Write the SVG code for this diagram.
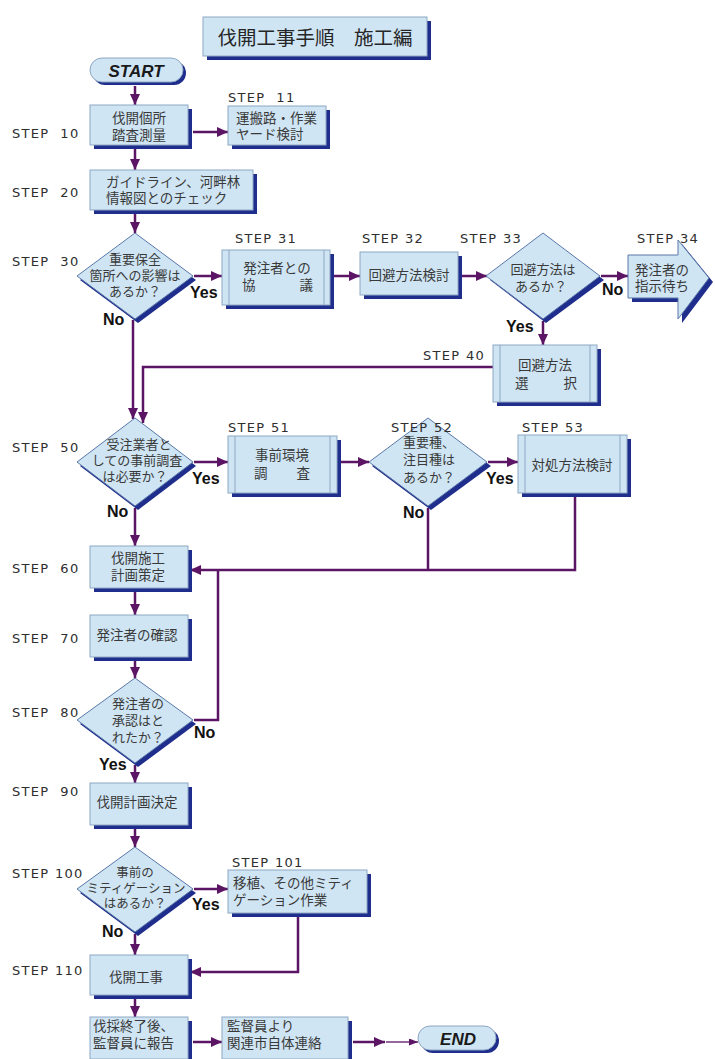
<svg xmlns="http://www.w3.org/2000/svg" width="715" height="1059" viewBox="0 0 715 1059">
<style>
.bg{fill:#ffffff}
.box{fill:#cfe5f4;stroke:#8ea7c3;stroke-width:1}
.sh{fill:#1f2e8c}
.inner{stroke:#8ea7c3;stroke-width:1;fill:none}
.dia{fill:#cfe5f4;stroke:#5a78a8;stroke-width:1}
.jp{font-family:"Noto Sans CJK JP","Noto Sans CJK SC",sans-serif;font-size:13.5px;fill:#3a3a3a}
.jpc{font-family:"Noto Sans CJK JP","Noto Sans CJK SC",sans-serif;font-size:13.5px;fill:#3a3a3a;text-anchor:middle}
.dt{font-family:"Noto Sans CJK JP","Noto Sans CJK SC",sans-serif;font-size:13px;fill:#3a3a3a;text-anchor:middle}
.dl{font-family:"Noto Sans CJK JP","Noto Sans CJK SC",sans-serif;font-size:13px;fill:#3a3a3a}
.title{font-family:"Noto Sans CJK JP","Noto Sans CJK SC",sans-serif;font-size:19.5px;fill:#262626;text-anchor:middle}
.step{font-family:"DejaVu Sans",sans-serif;font-size:13px;letter-spacing:1.3px;fill:#2e2e2e;white-space:pre}
.yn{font-family:"Liberation Sans",Arial,sans-serif;font-weight:bold;font-size:16px;fill:#111111}
.term{font-family:"Liberation Sans",Arial,sans-serif;font-weight:bold;font-style:italic;font-size:17px;fill:#1a1a1a;text-anchor:middle}
.con{fill:none;stroke:#5c1464;stroke-width:2.5}
.thin{fill:none;stroke:#5c1464;stroke-width:1.3}
</style>
<defs>
<marker id="ah" markerUnits="userSpaceOnUse" markerWidth="11" markerHeight="10" refX="11" refY="5" orient="auto">
<path d="M0,0 L11,5 L0,10 z" fill="#5c1464"/>
</marker>
<marker id="ahs" markerUnits="userSpaceOnUse" markerWidth="9" markerHeight="7" refX="9" refY="3.5" orient="auto">
<path d="M0,0 L9,3.5 L0,7 z" fill="#5c1464"/>
</marker>
</defs>
<rect class="bg" x="0" y="0" width="715" height="1059"/>

<g id="connectors">
<path class="con" d="M135,86 V105" marker-end="url(#ah)"/>
<path class="con" d="M135,149 V170" marker-end="url(#ah)"/>
<path class="con" d="M193,132 H228" marker-end="url(#ah)"/>
<path class="con" d="M135,214 V233" marker-end="url(#ah)"/>
<path class="con" d="M194,276 H222" marker-end="url(#ah)"/>
<path class="con" d="M334,276 H360" marker-end="url(#ah)"/>
<path class="con" d="M462,276 H487" marker-end="url(#ah)"/>
<path class="con" d="M601,276 H628" marker-end="url(#ah)"/>
<path class="con" d="M543,321 V345" marker-end="url(#ah)"/>
<path class="con" d="M133,320 V419" marker-end="url(#ah)"/>
<path class="con" d="M493,367 H143 V423" marker-end="url(#ah)"/>
<path class="con" d="M194,462 H228" marker-end="url(#ah)"/>
<path class="con" d="M341,462 H369" marker-end="url(#ah)"/>
<path class="con" d="M488,462 H518" marker-end="url(#ah)"/>
<path class="con" d="M428,508 V570"/>
<path class="con" d="M575,497 V570 H190" marker-end="url(#ah)"/>
<path class="con" d="M194,720 H218 V570"/>
<path class="con" d="M135,508 V546" marker-end="url(#ah)"/>
<path class="con" d="M135,592 V615" marker-end="url(#ah)"/>
<path class="con" d="M135,661 V678" marker-end="url(#ah)"/>
<path class="con" d="M135,765 V783" marker-end="url(#ah)"/>
<path class="con" d="M135,829 V847" marker-end="url(#ah)"/>
<path class="con" d="M194,889 H228" marker-end="url(#ah)"/>
<path class="con" d="M135,934 V955" marker-end="url(#ah)"/>
<path class="con" d="M298,917 V972 H190" marker-end="url(#ah)"/>
<path class="con" d="M135,999 V1017" marker-end="url(#ah)"/>
<path class="con" d="M193,1042 H222" marker-end="url(#ah)"/>
<path class="con" d="M353,1042 H385" marker-end="url(#ah)"/>
<path class="thin" d="M386,1042 H418" marker-end="url(#ahs)"/>
</g>

<g id="title">
<rect class="sh" x="207" y="21" width="224" height="39"/>
<rect class="box" x="203" y="17" width="224" height="39"/>
<text class="title" x="315" y="45">伐開工事手順　施工編</text>
</g>

<g id="start">
<rect class="sh" x="93" y="61" width="93" height="24" rx="12"/>
<rect class="box" x="90" y="58" width="93" height="24" rx="12"/>
<text class="term" x="136" y="77">START</text>
</g>

<g id="step10">
<rect class="sh" x="94" y="109" width="98" height="40"/>
<rect class="box" x="90" y="105" width="98" height="40"/>
<text class="jpc" x="139" y="123">伐開個所</text>
<text class="jpc" x="139" y="140">踏査測量</text>
<text class="step" x="12" y="138">STEP  10</text>
</g>

<g id="step11">
<rect class="sh" x="232" y="110" width="98" height="39"/>
<rect class="box" x="228" y="106" width="98" height="39"/>
<text class="jp" x="236" y="123">運搬路・作業</text>
<text class="jp" x="236" y="139">ヤード検討</text>
<text class="step" x="228" y="102">STEP  11</text>
</g>

<g id="step20">
<rect class="sh" x="94" y="174" width="163" height="40"/>
<rect class="box" x="90" y="170" width="163" height="40"/>
<text class="jp" x="106" y="187">ガイドライン、河畔林</text>
<text class="jp" x="106" y="203">情報図とのチェック</text>
<text class="step" x="12" y="197">STEP  20</text>
</g>

<g id="step30">
<polygon class="sh" points="138,237 196,280 138,323 80,280"/>
<polygon class="dia" points="135,233 193,276 135,319 77,276"/>
<text class="dt" x="135" y="264">重要保全</text>
<text class="dt" x="135" y="280">箇所への影響は</text>
<text class="dt" x="135" y="296">あるか？</text>
<text class="step" x="12" y="266">STEP  30</text>
<text class="yn" x="190" y="298">Yes</text>
<text class="yn" x="103" y="325">No</text>
</g>

<g id="step31">
<rect class="sh" x="226" y="254" width="108" height="55"/>
<rect class="box" x="222" y="250" width="108" height="55"/>
<line class="inner" x1="229" y1="250" x2="229" y2="305"/>
<line class="inner" x1="324" y1="250" x2="324" y2="305"/>
<text class="jpc" x="277" y="273">発注者との</text>
<text class="jp" x="242" y="290" textLength="71" lengthAdjust="spacing">協　　議</text>
<text class="step" x="235" y="243">STEP 31</text>
</g>

<g id="step32">
<rect class="sh" x="364" y="256" width="98" height="43"/>
<rect class="box" x="360" y="252" width="98" height="43"/>
<text class="jpc" x="409" y="280">回避方法検討</text>
<text class="step" x="362" y="243">STEP 32</text>
</g>

<g id="step33">
<polygon class="sh" points="546,237 604,280 546,323 490,280"/>
<polygon class="dia" points="543,233 600,276 543,319 486,276"/>
<text class="dt" x="543" y="274">回避方法は</text>
<text class="dt" x="541" y="291">あるか？</text>
<text class="step" x="460" y="243">STEP 33</text>
<text class="yn" x="602" y="295">No</text>
<text class="yn" x="506" y="332">Yes</text>
</g>

<g id="step34">
<polygon class="sh" points="632,259 682,259 682,244 713,282 682,323 682,302 632,302"/>
<polygon class="dia" points="628,255 678,255 678,240 709,278 678,319 678,298 628,298"/>
<text class="jp" x="635" y="275">発注者の</text>
<text class="jp" x="635" y="291">指示待ち</text>
<text class="step" x="637" y="243">STEP 34</text>
</g>

<g id="step40">
<rect class="sh" x="497" y="349" width="104" height="57"/>
<rect class="box" x="493" y="345" width="104" height="57"/>
<line class="inner" x1="500" y1="345" x2="500" y2="402"/>
<line class="inner" x1="590" y1="345" x2="590" y2="402"/>
<text class="jpc" x="545" y="370">回避方法</text>
<text class="jp" x="515" y="388" textLength="62" lengthAdjust="spacing">選　　択</text>
<text class="step" x="423" y="360">STEP 40</text>
</g>

<g id="step50">
<polygon class="sh" points="138,422 196,466 138,510 80,466"/>
<polygon class="dia" points="135,418 193,462 135,506 77,462"/>
<text class="dt" x="139" y="449">受注業者と</text>
<text class="dt" x="137" y="465">しての事前調査</text>
<text class="dt" x="135" y="481">は必要か？</text>
<text class="step" x="12" y="452">STEP  50</text>
<text class="yn" x="192" y="484">Yes</text>
<text class="yn" x="107" y="517">No</text>
</g>

<g id="step51">
<rect class="sh" x="232" y="440" width="109" height="57"/>
<rect class="box" x="228" y="436" width="109" height="57"/>
<line class="inner" x1="235" y1="436" x2="235" y2="493"/>
<line class="inner" x1="330" y1="436" x2="330" y2="493"/>
<text class="jpc" x="282" y="460">事前環境</text>
<text class="jp" x="254" y="478" textLength="56" lengthAdjust="spacing">調　　査</text>
<text class="step" x="228" y="432">STEP 51</text>
</g>

<g id="step52">
<polygon class="sh" points="431,422 491,466 431,510 372,466"/>
<polygon class="dia" points="428,418 487,462 428,506 369,462"/>
<text class="dl" x="403" y="447">重要種、</text>
<text class="dl" x="403" y="464">注目種は</text>
<text class="dl" x="403" y="482">あるか？</text>
<text class="step" x="391" y="432">STEP 52</text>
<text class="yn" x="486" y="484">Yes</text>
<text class="yn" x="403" y="518">No</text>
</g>

<g id="step53">
<rect class="sh" x="522" y="439" width="109" height="58"/>
<rect class="box" x="518" y="435" width="109" height="58"/>
<line class="inner" x1="525" y1="435" x2="525" y2="493"/>
<line class="inner" x1="620" y1="435" x2="620" y2="493"/>
<text class="jpc" x="572" y="470">対処方法検討</text>
<text class="step" x="522" y="432">STEP 53</text>
</g>

<g id="step60">
<rect class="sh" x="94" y="550" width="98" height="42"/>
<rect class="box" x="90" y="546" width="98" height="42"/>
<text class="jpc" x="138" y="563">伐開施工</text>
<text class="jpc" x="138" y="580">計画策定</text>
<text class="step" x="12" y="573">STEP  60</text>
</g>

<g id="step70">
<rect class="sh" x="94" y="619" width="98" height="42"/>
<rect class="box" x="90" y="615" width="98" height="42"/>
<text class="jpc" x="137" y="640">発注者の確認</text>
<text class="step" x="12" y="643">STEP  70</text>
</g>

<g id="step80">
<polygon class="sh" points="138,682 196,724 138,767 80,724"/>
<polygon class="dia" points="135,678 193,720 135,763 77,720"/>
<text class="dt" x="138" y="708">発注者の</text>
<text class="dt" x="138" y="725">承認はと</text>
<text class="dt" x="138" y="742">れたか？</text>
<text class="step" x="12" y="717">STEP  80</text>
<text class="yn" x="194" y="738">No</text>
<text class="yn" x="99" y="770">Yes</text>
</g>

<g id="step90">
<rect class="sh" x="94" y="787" width="98" height="42"/>
<rect class="box" x="90" y="783" width="98" height="42"/>
<text class="jpc" x="137" y="807">伐開計画決定</text>
<text class="step" x="12" y="796">STEP  90</text>
</g>

<g id="step100">
<polygon class="sh" points="138,851 196,893 138,936 80,893"/>
<polygon class="dia" points="135,847 193,889 135,932 77,889"/>
<text class="dt" x="135" y="877" style="font-size:12.5px">事前の</text>
<text class="dt" x="136" y="893" style="font-size:12.5px">ミティゲーション</text>
<text class="dt" x="135" y="908" style="font-size:12.5px">はあるか？</text>
<text class="step" x="12" y="878">STEP 100</text>
<text class="yn" x="192" y="910">Yes</text>
<text class="yn" x="102" y="937">No</text>
</g>

<g id="step101">
<rect class="sh" x="232" y="874" width="139" height="43"/>
<rect class="box" x="228" y="870" width="139" height="43"/>
<text class="jp" x="233" y="888">移植、その他ミティ</text>
<text class="jp" x="233" y="905">ゲーション作業</text>
<text class="step" x="232" y="867">STEP 101</text>
</g>

<g id="step110">
<rect class="sh" x="94" y="959" width="98" height="40"/>
<rect class="box" x="90" y="955" width="98" height="40"/>
<text class="jpc" x="136" y="982">伐開工事</text>
<text class="step" x="12" y="975">STEP 110</text>
</g>

<g id="report">
<rect class="sh" x="94" y="1021" width="98" height="42"/>
<rect class="box" x="90" y="1017" width="98" height="42"/>
<text class="jp" x="93" y="1031">伐採終了後、</text>
<text class="jp" x="93" y="1048">監督員に報告</text>
</g>

<g id="contact">
<rect class="sh" x="226" y="1021" width="126" height="42"/>
<rect class="box" x="222" y="1017" width="126" height="42"/>
<text class="jp" x="227" y="1031">監督員より</text>
<text class="jp" x="227" y="1048">関連市自体連絡</text>
</g>

<g id="end">
<rect class="sh" x="421" y="1029" width="78" height="24" rx="12"/>
<rect class="box" x="418" y="1026" width="78" height="24" rx="12"/>
<text class="term" x="458" y="1045">END</text>
</g>
</svg>
